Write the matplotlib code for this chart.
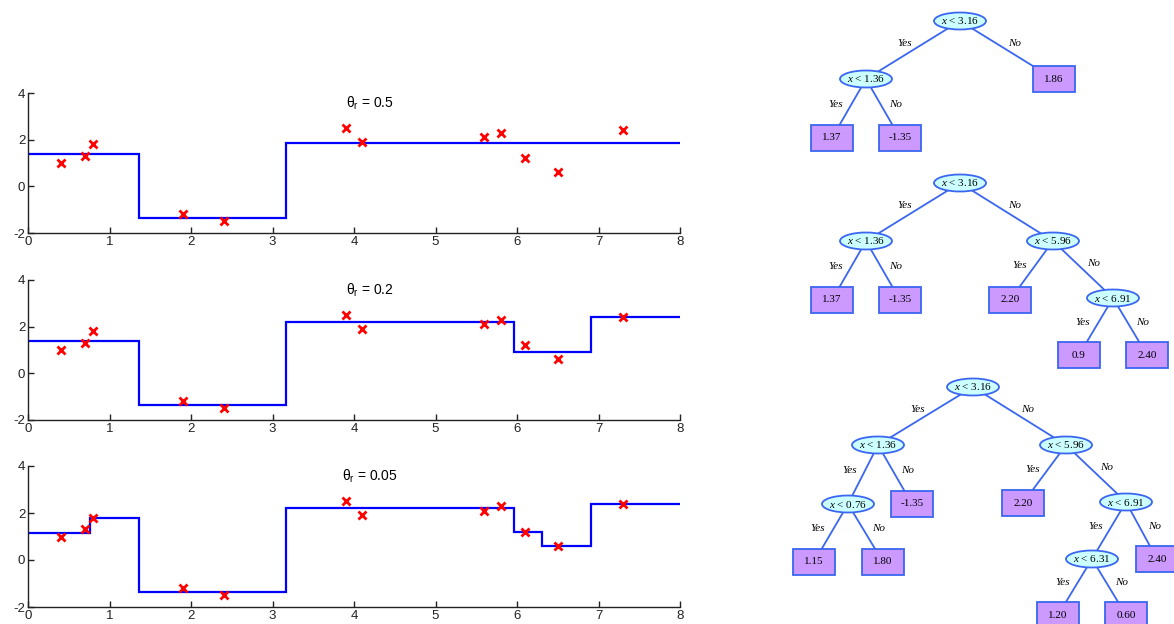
import numpy as np
import matplotlib
matplotlib.use("Agg")
import matplotlib.pyplot as plt
from matplotlib.patches import Ellipse, Rectangle

plt.rcParams["font.family"] = ["Liberation Sans", "DejaVu Sans"]
plt.rcParams["axes.unicode_minus"] = False
plt.rcParams["mathtext.fontset"] = "custom"
plt.rcParams["mathtext.rm"] = "Liberation Sans"
plt.rcParams["mathtext.it"] = "Liberation Serif:italic"

# training points
x_pts = [0.4, 0.7, 0.8, 1.9, 2.4, 3.9, 4.1, 5.6, 5.8, 6.1, 6.5, 7.3]
y_pts = [1.0, 1.3, 1.8, -1.2, -1.5, 2.5, 1.9, 2.1, 2.3, 1.2, 0.6, 2.4]

# piecewise-constant fits (split edges and leaf values)
thetas = ["0.5", "0.2", "0.05"]
edges = [
    [0, 1.36, 3.16, 8],
    [0, 1.36, 3.16, 5.96, 6.91, 8],
    [0, 0.76, 1.36, 3.16, 5.96, 6.31, 6.91, 8],
]
leaf_vals = [
    [1.37, -1.35, 1.86],
    [1.37, -1.35, 2.20, 0.9, 2.40],
    [1.15, 1.80, -1.35, 2.20, 1.20, 0.60, 2.40],
]

# trees: labels, parent index (children in order Yes, No)
tree_labels = [
    ["x < 3.16", "x < 1.36", "1.86", "1.37", "-1.35"],
    ["x < 3.16", "x < 1.36", "x < 5.96", "1.37", "-1.35", "2.20", "x < 6.91", "0.9", "2.40"],
    ["x < 3.16", "x < 1.36", "x < 5.96", "x < 0.76", "-1.35", "2.20", "x < 6.91",
     "1.15", "1.80", "x < 6.31", "2.40", "1.20", "0.60"],
]
tree_parents = [
    [-1, 0, 0, 1, 1],
    [-1, 0, 0, 1, 1, 2, 2, 6, 6],
    [-1, 0, 0, 1, 1, 2, 2, 3, 3, 6, 6, 9, 9],
]
# layout of tree nodes in pixels (figure coords, y downwards)
tree_pos = [
    [(960, 21), (866, 79), (1054, 79), (832, 138), (900, 138)],
    [(960, 183), (866, 241), (1053, 241), (832, 300), (900, 300), (1010, 300),
     (1113, 298), (1079, 355), (1147, 355)],
    [(973, 387), (878, 445), (1066, 445), (848, 504), (912, 504), (1023, 503),
     (1126, 502), (814, 562), (883, 562), (1092, 559), (1157, 559), (1058, 615),
     (1126, 615)],
]

W, H = 1174, 624
fig = plt.figure(figsize=(W / 100, H / 100), dpi=100, facecolor="white")

axes_px = [(93, 233), (280, 420), (466, 607)]
for i, (top, bot) in enumerate(axes_px):
    ax = fig.add_axes([28 / W, (H - bot) / H, 652 / W, (bot - top) / H])
    ax.stairs(leaf_vals[i], edges[i], color="#0000ff", lw=1.6, baseline=None)
    ax.plot(x_pts, y_pts, "x", color="#ff0000", ms=5.5, mew=2)
    ax.set_xlim(0, 8)
    ax.set_ylim(-2, 4)
    ax.set_xticks(range(0, 9))
    ax.set_yticks([-2, 0, 2, 4])
    ax.spines["top"].set_visible(False)
    ax.spines["right"].set_visible(False)
    for s in ("left", "bottom"):
        ax.spines[s].set_color("#222222")
        ax.spines[s].set_linewidth(1.0)
    ax.tick_params(direction="in", length=4, width=1, labelsize=9.5, pad=2,
                   colors="#222222")
    ax.patch.set_alpha(0)
    ax.text(4.2, 3.55, "θ$_\\mathrm{r}$ = " + thetas[i], ha="center", va="center",
            fontsize=10)

# tree drawing
tax = fig.add_axes([0, 0, 1, 1])
tax.set_xlim(0, W)
tax.set_ylim(H, 0)
tax.axis("off")

line_col = "#3a66f0"
for labels, parents, pos in zip(tree_labels, tree_parents, tree_pos):
    seen = {}
    for k, p in enumerate(parents):
        if p < 0:
            continue
        (x0, y0), (x1, y1) = pos[p], pos[k]
        tax.plot([x0, x1], [y0, y1], color=line_col, lw=1.3, zorder=1)
        first = p not in seen
        seen[p] = True
        dx, dy = x1 - x0, y1 - y0
        n = np.hypot(dx, dy)
        px, py = (-dy / n, dx / n) if first else (dy / n, -dx / n)
        mx, my = (x0 + x1) / 2, (y0 + y1) / 2
        tax.text(mx + px * 15, my + py * 8, "Yes" if first else "No",
                 ha="center", va="center", fontsize=8, style="italic",
                 family="Liberation Serif", zorder=3)
    for lab, (x, y) in zip(labels, pos):
        if lab.startswith("x"):
            tax.add_patch(Ellipse((x, y), 52, 17, facecolor="#ccffff",
                                  edgecolor=line_col, lw=1.3, zorder=2))
            tax.text(x, y, "$x$ " + lab[2:], ha="center", va="center",
                     fontsize=8, family="Liberation Serif", zorder=3)
        else:
            tax.add_patch(Rectangle((x - 21, y - 13), 42, 26, facecolor="#cc99ff",
                                    edgecolor=line_col, lw=1.3, zorder=2))
            tax.text(x, y, lab, ha="center", va="center", fontsize=8,
                     family="Liberation Serif", zorder=3)

fig.savefig("out.png", dpi=100, facecolor="white")
